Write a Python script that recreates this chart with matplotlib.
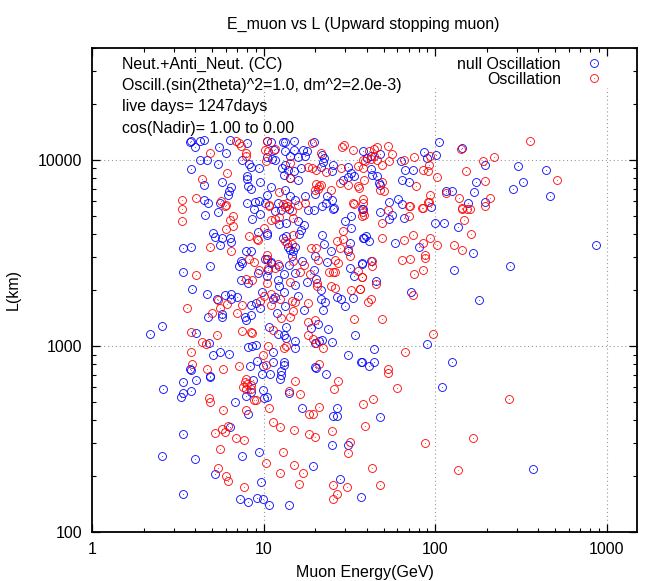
import numpy as np
import matplotlib
matplotlib.use("Agg")
from matplotlib import pyplot as plt
from matplotlib.path import Path

plt.rcParams["font.family"] = ["Liberation Sans", "DejaVu Sans"]

# (muon energy GeV, L km)
null_osc = [
    (3.7,12500),(3.8,12600),(4.0,11700),(4.25,12700),(4.5,12750),(4.25,10000),(4.65,10000),(5.5,11700),(6.0,10900),
    (5.4,9560),(3.8,8940),(4.5,7330),(5.7,7580),(6.5,7130),(6.3,6780),(6.2,6500),(4.75,5850),(4.5,6110),(5.6,5870),
    (6.4,12750),(8.0,12350),(7.45,10000),(8.2,9560),(8.5,9130),(9.4,9090),(8.05,8230),(8.0,7900),(8.1,7220),(8.5,6980),
    (9.5,7580),(11,7150),(10.5,6480),(8.05,5870),(8.9,5940),(9.4,5990),(10.4,12600),(11,12500),(13,12450),(13.3,12450),
    (15,12600),(13.3,11230),(15,11280),(14.2,10470),(15.9,10380),(17,11380),(18,11130),(17.4,10470),(11.5,11380),
    (10.5,10380),(11.2,10170),(11.7,10000),(13.3,9440),(12.8,9050),(13.8,8870),(13.2,8340),(15,8690),(14.2,8000),
    (15.9,7840),(16.5,9050),(19.6,12450),(21.9,10680),(22.5,10250),(22.3,9720),(21.6,9170),(25.5,9440),(25,8690),
    (31,9130),(32.5,8510),(33.8,8230),(31.2,8150),(29,7840),(38,11130),(23.3,6380),(13.3,6920),(14.2,6380),(12.2,5870),
    (15.2,6110),(19.9,6600),(17.4,6380),(25,6110),(25.6,5490),(23,5870),
    (105,12450),(144,11600),(86,11080),(89,10250),(101,10600),(63,9840),(67,8800),(74,8800),(64,7840),(70,7580),
    (116,6780),(126,6780),(168,6690),(174,7580),(195,9440),(283,7020),(324,7610),(302,9230),(443,8870),(466,6440),
    (54,5940),(61,6160),(64,5800),(156,5870),(195,5970),(95,5560),(48,10770),(40,10250),(42,10470),(42,8940),
    (46,8230),(43,8330),(47,7520),(48,7300),(37.5,5480),
    (2.18,1160),(2.55,1280),(3.4,3360),(3.8,3400),(3.4,2510),(4.9,2700),(3.85,2030),(4.65,1900),(4.75,1430),(4.05,1170),
    (4.8,1040),(4.55,5040),(5.45,5230),(5.1,4040),(5.2,3850),(5.7,3800),(5.6,3500),(6.4,3800),(6.45,3610),(7.95,3230),
    (8.5,3230),(9.3,4080),(8.6,4800),(9.5,5140),(8.8,5430),(10.2,5900),(10.5,4050),(10.4,3960),(7.4,2860),(7.2,2700),
    (7.5,2790),(7.4,2250),(8.1,2180),(9.3,2460),(10.5,2380),(10.6,2570),(9.8,1960),(10.2,2930),(11,2840),(5.95,1880),
    (6.5,1900),(6.5,1800),(7.0,1830),(5.35,1800),(5.7,1490),(5.7,1430),(7.8,1440),(7.9,1380),(8.5,1470),(8.5,1660),
    (9.0,1700),(9.5,1610),(11.4,1800),(12,1510),(13.3,1640),(10.7,1270),(13.5,1270),(12.2,1160),(13.1,1150),(13.5,1100),
    (15.2,1070),(15.2,970),(8.1,990),(8.6,1000),(9,1010),(5.1,890),(5.6,930),(6.3,910),(11.3,930),(9.2,830),(11.4,825),
    (13.1,825),(13.2,790),(8.3,780),(9.9,780),(3.7,750),(16,4000),(16.6,4220),(17.1,4490),(13,3800),(13.5,3880),
    (13.8,3420),(14.2,3290),(15.3,3420),(14.8,3230),(14.7,3030),(10.4,2930),(11.1,2790),(12.3,2700),(13.2,2440),(14,2730),
    (15.2,2480),(16.7,2880),(15.3,2130),(13.2,1960),(12.1,2260),(12.3,2090),(11.7,1840),(15.9,1860),(17.2,1560),(17.8,2220),
    (19.6,2570),(20,3030),(20.2,2290),(21.5,2000),(21.5,1800),(22.7,1730),(22.3,1560),(26.9,1840),(28.3,1800),(29.7,1650),
    (33.3,1820),(22,3960),(22.5,3530),(24.7,3250),(23.4,2840),(32,3570),(31,3250),(32,2620),(37.5,2770),(33.5,2380),
    (30,4700),(32.5,4300),(32.5,4970),(38.5,3800),(23.6,1230),(20.7,1310),(19,1250),(25,1055),(20,1035),(21,1060),
    (21.9,1075),(31,900),(34,1150),(37,825),(20.3,760),(25.5,5430),(22,5650),(18.2,5380),(19.6,5380),(15.9,4670),
    (13.5,4580),(12.3,4520),(11.6,5300),(12.7,5380),(14,5430),
    (866,3500),(274,2680),(180,1760),(166,3150),(128,2570),(126,825),(100,4590),(112,4570),(136,4380),(90,1025),(44,965),
    (44,825),(37.5,825),(41,780),(81,3420),(58,3570),(72,1950),(45,2240),(37.5,2790),(42,2870),(41,3650),(38,3800),
    (39.5,3880),(66,4880),(54,4830),(56,5090),(48,5260),(38,5480),
    (2.6,590),(3.4,640),(4.05,655),(3.8,740),(3.75,575),(3.4,560),(3.3,530),(4.9,690),(4.85,685),(8.7,655),(9.8,710),
    (10.9,710),(12.6,735),(12.7,700),(12.5,665),(9.9,580),(8.5,565),(7.9,540),(10,525),(10.4,530),(6.8,500),(14.1,560),
    (20,770),(23,705),(16.8,465),(26.7,465),(25.5,420),(26.9,420),(8.1,430),(6.4,365),(3.4,337),(2.55,255),(4.0,247),
    (7.5,255),(9.4,268),(25,295),(31,295),(19.5,225),(5.2,205),(9.6,185),(28,192),(3.4,160),(7.3,150),(8.1,145),(9.1,152),
    (9.9,150),(10.7,140),(14,140),(37,155),(110,600),(48,415),(370,217),
]
with_osc = [
    (4.9,10960),(6.9,12720),(7.2,12350),(7.35,11870),(7.9,10900),(7.9,10550),(4.35,7930),(6.1,8510),(3.35,6080),(3.35,5480),
    (4.05,6250),(5.65,5990),(6.0,5700),(10.4,12600),(10.2,11380),(10.6,11130),(11.7,11460),(10.3,9840),(14.2,9640),
    (12.3,6690),(10.7,5750),(13.6,5870),(19.2,12350),(21.5,10900),(18.2,9170),(19.1,9050),(20.3,8870),(29.5,12050),
    (28.6,11760),(33,11340),(28.3,9050),(35.5,9230),(38,10000),(38,9050),(23,8580),(21,7220),(20.2,7400),(21.6,7300),
    (20.8,7000),(20,6920),(24.6,6920),(31,7360),(35.5,7220),(28,7510),(14.3,8000),(17.4,5870),(15.9,5750),(13.3,5620),
    (33,5870),(38,5870),
    (357,12600),(141,11460),(220,10330),(191,9880),(151,8770),(511,7770),(195,7680),(77,7270),(103,8100),(92,9400),(85,8800),
    (91,8770),(75,10380),(66,10000),(56,10730),(53,11880),(46,11770),(41,11170),(44,11500),(54,9920),(49,9400),(93,10550),
    (44,10470),(46,10000),(42,10130),(39,9840),(38.5,7840),(36,7060),(47.6,6920),(50,6820),(49,7580),(37.9,6160),(93,6450),
    (92,5920),(70,5630),(84,5490),(115,6630),(138,6250),(208,6270),(195,5630),(144,5490),(160,5430),(53,5400),
    (3.35,4700),(4.05,2410),(3.6,1610),(3.8,1190),(4.88,3400),(5,1510),(5.35,1140),(4.4,1055),(4.6,1020),(3.75,930),
    (3.85,800),(4.7,755),(5.8,755),(5.95,5650),(6.6,4970),(6.4,4770),(6.65,4440),(6.0,4250),(6.45,3260),(8.2,3900),
    (9.2,3760),(9.3,3700),(10,4310),(10.8,5680),(11,4730),(11.6,4830),(12.3,4930),(13,5800),(13.7,5650),(14.6,5290),
    (14.8,4870),(14.8,3970),(13.3,3660),(13.6,3570),(14.6,3530),(10.4,3090),(10.4,2930),(10.4,2180),(8.2,2930),(8.8,2840),
    (10.6,2640),(11.7,2620),(12.2,2760),(9.4,2550),(7.95,2290),(8.55,2270),(14.2,2220),(14.8,2870),(16.4,2510),(17.2,2730),
    (18.7,2440),(19,3360),(20.1,3360),(20.8,2900),(20.4,2180),(20.5,2090),(24,2510),(25.5,2510),(26,2510),(24.6,2090),
    (26,2040),(26.2,2900),(27,2790),(26.7,3650),(29,3760),(27.9,3360),(29,4160),(31,3310),(32,3030),(32.5,2000),(36.5,2030),
    (35.3,2530),(37.5,2340),(33.7,5800),(37.5,4970),(18.2,1710),(14.7,1750),(15.3,1730),(14.8,1540),(14.2,1440),(12.7,1410),
    (20,1380),(18.2,1350),(18.2,1140),(19.5,1090),(20.3,1040),(22.2,980),(33.5,1400),(21,805),(10.6,1000),(13.5,1000),
    (13.2,970),(9.9,900),(10.3,790),(7.2,780),(7.5,1200),(8.4,1195),(8.6,1170),(11.4,1220),(7,1510),(7.5,1670),(6.1,1680),
    (5.6,1610),(5.4,1770),(9.5,1750),(10,1850),(11,1660),(11,1900),(12.4,1800),
    (49,4600),(38.5,5040),(37.8,5250),(70,4980),(71,5690),(85,5500),(91,5940),(148,4770),(143,5460),(154,5420),(161,4000),
    (128,3500),(144,3290),(102,3480),(93,3800),(85,3570),(74,3930),(66,3720),(49,3800),(87,3100),(87,2960),(71,2930),(64,2890),
    (85,2570),(75,2440),(43,2870),(43,2700),(45,2160),(42,1800),(40.5,1720),(74,1880),(49,1400),(97,1155),(67,925),(37.5,2360),
    (36.4,2020),(53,755),
    (7.9,665),(7.75,640),(7.6,605),(8,625),(8.4,615),(7.95,590),(8.5,590),(8.8,510),(9,515),(4.8,525),(4.85,500),(5.8,450),
    (7.9,450),(10.7,465),(14,570),(16.3,550),(15.2,650),(27,645),(25.6,590),(21,470),(18.5,430),(19.5,430),(38,490),(39,370),
    (11.3,390),(12.5,365),(15,355),(18.3,335),(20,325),(25,350),(32,305),(31,265),(5.2,340),(5.7,360),(5.95,345),(6.2,370),
    (6.9,320),(7.7,312),(5.55,280),(12.9,270),(10.3,235),(15.1,230),(12.4,207),(17,207),(5.4,222),(6,200),(6.2,187),(7.7,175),
    (16,182),(25.5,178),(30.5,174),(26.7,161),(25.5,150),(53,715),(60,595),(43.5,520),(270,520),(87,300),(167,320),(43,222),
    (136,215),(47.5,180),
]
x_ticks = [1, 10, 100, 1000]
y_ticks = [100, 1000, 10000]
notes = [
    "Neut.+Anti_Neut. (CC)",
    "Oscill.(sin(2theta)^2=1.0, dm^2=2.0e-3)",
    "live days= 1247days",
    "cos(Nadir)= 1.00 to 0.00",
]
note_y = [0.967, 0.923, 0.879, 0.834]

null_osc = np.array(null_osc)
with_osc = np.array(with_osc)

# gnuplot style point: open circle with a dot in the middle
dot = Path.circle((0, 0), 0.03)
marker = Path.make_compound_path(Path.unit_circle(), dot)

fig = plt.figure(figsize=(6.64, 5.81), dpi=100)
ax = fig.add_axes([92 / 664, 1 - 532 / 581, 545 / 664, 484 / 581])

for v in x_ticks[1:]:
    ax.axvline(v, ymax=0.917, color="#999999", lw=0.8, ls=(0, (1, 2.5)), zorder=1)
for v in y_ticks[1:]:
    ax.axhline(v, color="#999999", lw=0.8, ls=(0, (1, 2.5)), zorder=1)

ax.plot(null_osc[:, 0], null_osc[:, 1], ls="none", marker=marker, ms=5.7, mew=0.6,
        mec="#0000ff", mfc="none", label="null Oscillation", zorder=3)
ax.plot(with_osc[:, 0], with_osc[:, 1], ls="none", marker=marker, ms=5.7, mew=0.6,
        mec="#ff0000", mfc="none", label="Oscillation", zorder=3)

ax.set_xscale("log")
ax.set_yscale("log")
ax.set_xlim(1, 1500)
ax.set_ylim(100, 40000)
ax.set_xticks(x_ticks)
ax.set_xticklabels([str(v) for v in x_ticks])
ax.set_yticks(y_ticks)
ax.set_yticklabels([str(v) for v in y_ticks])
ax.tick_params(which="major", direction="in", top=True, right=True, length=5.5, width=0.9, labelsize=11.5, pad=7)
ax.tick_params(which="minor", direction="in", top=True, right=True, length=2.8, width=0.8, labelbottom=False, labelleft=False)
for s in ax.spines.values():
    s.set_linewidth(1.3)

ax.set_xlabel("Muon Energy(GeV)", fontsize=11.5, labelpad=6)
ax.set_ylabel("L(km)", fontsize=11.5, labelpad=12)
fig.text(363 / 664, 1 - 24 / 581, "E_muon vs L (Upward stopping muon)", ha="center", va="center", fontsize=11.5)

for y, s in zip(note_y, notes):
    ax.text(0.055, y, s, transform=ax.transAxes, va="center", fontsize=11.5)

ax.legend(loc="upper right", bbox_to_anchor=(0.950, 0.9815), markerfirst=False, frameon=False, fontsize=11.5,
          labelspacing=0.0, handletextpad=1.06, borderpad=0, borderaxespad=0, handlelength=2)

fig.savefig("out.png", dpi=100)
